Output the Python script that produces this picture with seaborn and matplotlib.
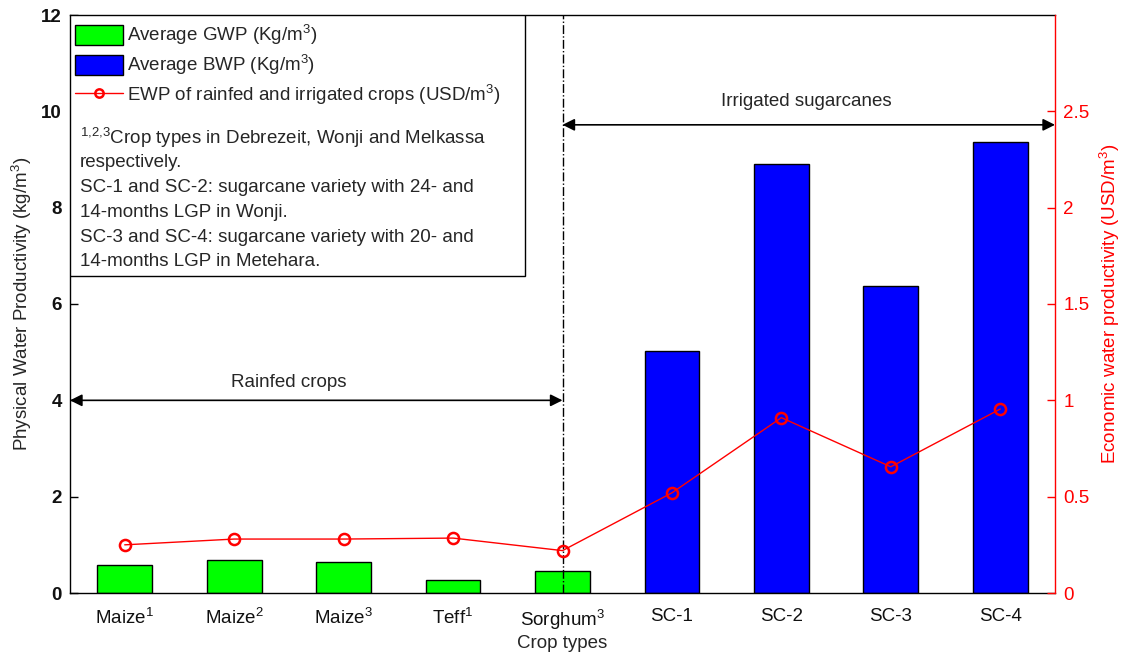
import numpy as np
import pandas as pd
import matplotlib
matplotlib.use("Agg")
import matplotlib.pyplot as plt
import matplotlib.patches as mpatches
from matplotlib.lines import Line2D
import seaborn as sns

# ---- data -------------------------------------------------------------
crops = ["Maize$^1$", "Maize$^2$", "Maize$^3$", "Teff$^1$", "Sorghum$^3$",
         "SC-1", "SC-2", "SC-3", "SC-4"]
gwp = [0.58, 0.68, 0.64, 0.28, 0.45, 0, 0, 0, 0]          # rainfed (green)
bwp = [0, 0, 0, 0, 0, 5.02, 8.90, 6.37, 9.36]             # irrigated (blue)
ewp = [0.25, 0.28, 0.28, 0.285, 0.22, 0.52, 0.91, 0.655, 0.955]

gwp_label = "Average GWP (Kg/m$^3$)"
bwp_label = "Average BWP (Kg/m$^3$)"
ewp_label = "EWP of rainfed and irrigated crops (USD/m$^3$)"
notes = [
    "$^{1{,}2{,}3}$Crop types in Debrezeit, Wonji and Melkassa",
    "respectively.",
    "SC-1 and SC-2: sugarcane variety with 24- and",
    "14-months LGP in Wonji.",
    "SC-3 and SC-4: sugarcane variety with 20- and",
    "14-months LGP in Metehara.",
]
left_ticks = [0, 2, 4, 6, 8, 10, 12]
right_ticks = [0, 0.5, 1, 1.5, 2, 2.5]
right_tick_labels = ["0", "0.5", "1", "1.5", "2", "2.5"]

# ---- style ------------------------------------------------------------
sns.set_theme(style="white")
plt.rcParams["font.family"] = ["Liberation Sans", "DejaVu Sans"]
plt.rcParams["mathtext.fontset"] = "custom"
plt.rcParams["mathtext.rm"] = "Liberation Sans"
plt.rcParams["mathtext.it"] = "Liberation Sans:italic"
plt.rcParams["mathtext.bf"] = "Liberation Sans:bold"

GREEN, BLUE, RED = "#00ff00", "#0000ff", "#ff0000"
FS = 13.5      # captions, legend and axis titles
TFS = 13.5     # tick labels

fig = plt.figure(figsize=(11.24, 6.56), dpi=100)
ax = fig.add_axes([70 / 1124, 1 - 593 / 656, 985 / 1124, 578 / 656])

# long-form table for the bars
df = pd.DataFrame({
    "crop": crops * 2,
    "value": gwp + bwp,
    "kind": [gwp_label] * len(crops) + [bwp_label] * len(crops),
})
sns.barplot(data=df, x="crop", y="value", hue="kind", order=crops,
            hue_order=[gwp_label, bwp_label],
            palette={gwp_label: GREEN, bwp_label: BLUE}, saturation=1,
            dodge=False, width=0.5, edgecolor="black", linewidth=1.0,
            legend=False, ax=ax)
# drop zero-height placeholder bars
for p in list(ax.patches):
    if p.get_height() == 0:
        p.remove()

ax.set_xlim(-0.5, len(crops) - 0.5)
ax.set_ylim(0, 12)
ax.set_yticks(left_ticks)
ax.set_yticklabels([str(t) for t in left_ticks], fontsize=TFS, fontweight="bold")
ax.set_xticks(range(len(crops)))
ax.set_xticklabels(crops, fontsize=TFS)
ax.tick_params(axis="both", direction="in", length=6, width=1, color="black",
               labelcolor="#111111")
ax.tick_params(axis="x", pad=11)
ax.tick_params(axis="y", pad=6)
ax.set_xlabel("Crop types", fontsize=FS, labelpad=2)
ax.set_ylabel("Physical Water Productivity (kg/m$^3$)", fontsize=FS, labelpad=5)
for side in ["left", "top", "bottom"]:
    ax.spines[side].set_color("black")
    ax.spines[side].set_linewidth(1.0)
ax.spines["right"].set_visible(False)

# divider between rainfed and irrigated groups
ax.axvline(4, color="black", ls="-.", lw=1.0, zorder=3)

# group arrows and captions
arrow_kw = dict(arrowstyle="<|-|>", color="black", lw=1.2, mutation_scale=18,
                shrinkA=0, shrinkB=0)
ax.annotate("", xy=(-0.5, 4.0), xytext=(4, 4.0), arrowprops=arrow_kw, zorder=4)
ax.text(1.5, 4.38, "Rainfed crops", ha="center", va="center", fontsize=FS)
ax.annotate("", xy=(4, 9.72), xytext=(8.5, 9.72), arrowprops=arrow_kw, zorder=4)
ax.text(6.23, 10.2, "Irrigated sugarcanes", ha="center", va="center", fontsize=FS)

# economic productivity on the secondary axis
ax2 = ax.twinx()
sns.lineplot(x=np.arange(len(crops)), y=ewp, ax=ax2, color=RED, lw=1.0,
             marker="o", markersize=8, markerfacecolor="none",
             markeredgecolor=RED, markeredgewidth=1.8)
ax2.set_ylim(0, 3)
ax2.set_yticks(right_ticks)
ax2.set_yticklabels(right_tick_labels, fontsize=TFS)
ax2.tick_params(axis="y", direction="in", length=6, width=1, color=RED,
                labelcolor=RED, pad=6)
ax2.set_ylabel("Economic water productivity (USD/m$^3$)", fontsize=FS,
               color=RED, labelpad=6)
ax2.spines["right"].set_color(RED)
ax2.spines["right"].set_linewidth(1.0)
for side in ["left", "top", "bottom"]:
    ax2.spines[side].set_visible(False)

# legend box with notes
box_right = (525 - 70) / 985
box_bottom = (593 - 276) / 578
ax2.add_patch(mpatches.Rectangle((0, box_bottom), box_right, 1 - box_bottom,
                                 transform=ax2.transAxes, facecolor="white",
                                 edgecolor="black", lw=1.0, zorder=6))
handles = [
    mpatches.Patch(facecolor=GREEN, edgecolor="black", lw=1.0),
    mpatches.Patch(facecolor=BLUE, edgecolor="black", lw=1.0),
    Line2D([], [], color=RED, lw=1.0, marker="o", markersize=6,
           markerfacecolor="none", markeredgecolor=RED, markeredgewidth=1.8),
]
leg = ax2.legend(handles, [gwp_label, bwp_label, ewp_label], loc="upper left",
                 bbox_to_anchor=(0.0015, 0.993), frameon=False, fontsize=FS,
                 handlelength=2.56, handleheight=1.25, labelspacing=0.33,
                 handletextpad=0.2, borderpad=0.2, borderaxespad=0)
leg.set_zorder(7)
for i, line in enumerate(notes):
    y_px = 138 + i * 24.8
    ax2.text(10 / 985, (593 - y_px) / 578, line, transform=ax2.transAxes,
             ha="left", va="center", fontsize=FS, zorder=7)

fig.savefig("out.png", dpi=100)
